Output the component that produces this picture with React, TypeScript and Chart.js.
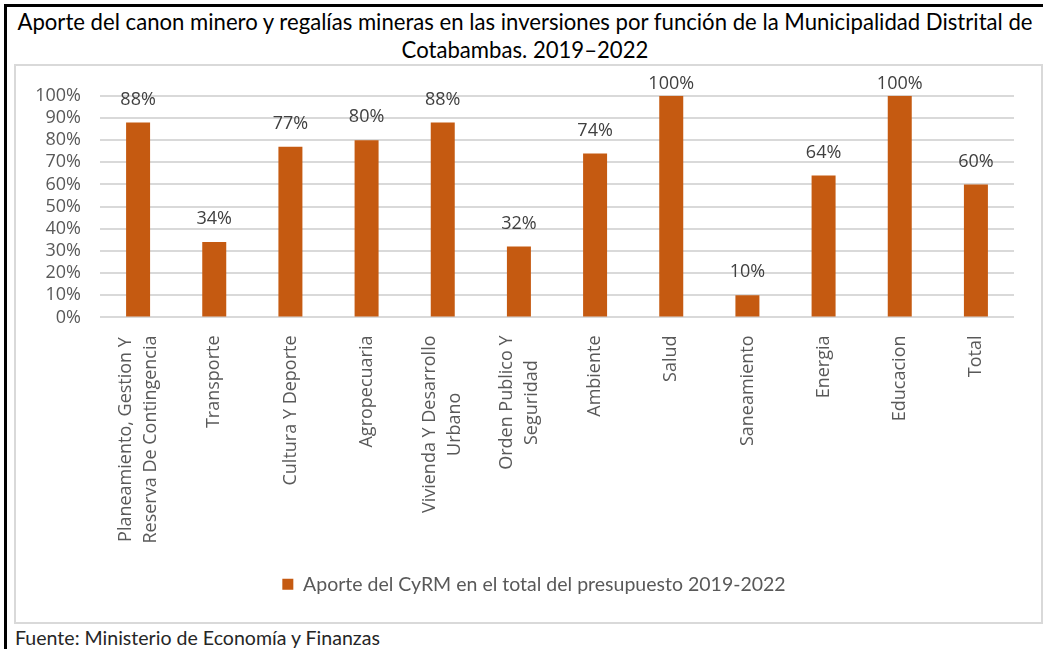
import React, { useEffect, useRef } from "react";
import { Chart, registerables } from "chart.js";

Chart.register(...registerables);

// ---------- data ----------
const titleLines = [
  "Aporte del canon minero y regalías mineras en las inversiones por función de la Municipalidad Distrital de",
  "Cotabambas. 2019–2022",
];
const categories: string[][] = [
  ["Planeamiento, Gestion Y", "Reserva De Contingencia"],
  ["Transporte"],
  ["Cultura Y Deporte"],
  ["Agropecuaria"],
  ["Vivienda Y Desarrollo", "Urbano"],
  ["Orden Publico Y", "Seguridad"],
  ["Ambiente"],
  ["Salud"],
  ["Saneamiento"],
  ["Energia"],
  ["Educacion"],
  ["Total"],
];
const values = [88, 34, 77, 80, 88, 32, 74, 100, 10, 64, 100, 60];
const seriesName = "Aporte del CyRM en el total del presupuesto 2019-2022";
const yMin = 0;
const yMax = 100;
const yStep = 10;
const sourceNote = "Fuente: Ministerio de Economía y Finanzas";

// ---------- styles ----------
const BAR_COLOR = "#C55A11";
const GRID_COLOR = "#D9D9D9";
const TICK_COLOR = "#595959";
const LABEL_COLOR = "#404040";
const SANS = '"Open Sans", sans-serif';
const HUMAN = 'Lato, "Open Sans", sans-serif';

function fitFontSize(text: string, family: string, target: number): number {
  const c = document.createElement("canvas").getContext("2d");
  if (!c) return 18;
  c.font = `100px ${family}`;
  const w = c.measureText(text).width;
  return w > 0 ? (100 * target) / w : 18;
}

const dataLabelPlugin = {
  id: "dataLabels",
  afterDatasetsDraw(chart: any) {
    const ctx = chart.ctx;
    const meta = chart.getDatasetMeta(0);
    const minY = chart.chartArea.top - 12;
    ctx.save();
    ctx.font = `18px ${SANS}`;
    ctx.fillStyle = LABEL_COLOR;
    ctx.textAlign = "center";
    ctx.textBaseline = "middle";
    meta.data.forEach((bar: any, i: number) => {
      ctx.fillText(`${values[i]}%`, bar.x, Math.max(bar.y - 23, minY));
    });
    ctx.restore();
  },
};

const xLabelPlugin = {
  id: "xLabels",
  afterDraw(chart: any) {
    const ctx = chart.ctx;
    const xs = chart.scales.x;
    const top = chart.chartArea.bottom + 18;
    const lineGap = 25;
    ctx.save();
    ctx.font = `18px ${SANS}`;
    ctx.fillStyle = TICK_COLOR;
    ctx.textAlign = "center";
    ctx.textBaseline = "middle";
    categories.forEach((lines, i) => {
      const x = xs.getPixelForValue(i);
      const maxW = Math.max(...lines.map((l) => ctx.measureText(l).width));
      lines.forEach((line, j) => {
        const lx = x + (j - (lines.length - 1) / 2) * lineGap;
        ctx.save();
        ctx.translate(lx, top + maxW / 2);
        ctx.rotate(-Math.PI / 2);
        ctx.fillText(line, 0, 0);
        ctx.restore();
      });
    });
    ctx.restore();
  },
};

const legendShiftPlugin = {
  id: "legendShift",
  afterLayout(chart: any) {
    const lg = chart.legend;
    if (!lg) return;
    const shift = 19;
    lg.left += shift;
    lg.right += shift;
    if (lg.legendHitBoxes) {
      lg.legendHitBoxes.forEach((b: any) => {
        b.left += shift;
      });
    }
  },
};

export default function App() {
  const canvasRef = useRef<HTMLCanvasElement | null>(null);
  const legendSize = fitFontSize(seriesName, HUMAN, 483);
  const titleSize = fitFontSize(titleLines[0], HUMAN, 1017);
  const footSize = fitFontSize(sourceNote, HUMAN, 366);

  useEffect(() => {
    document.body.style.margin = "0";
    if (!canvasRef.current) return;
    const chart = new Chart(canvasRef.current, {
      type: "bar",
      data: {
        labels: categories.map((c) => c.join(" ")),
        datasets: [
          {
            label: seriesName,
            data: values,
            backgroundColor: BAR_COLOR,
            borderWidth: 0,
            categoryPercentage: 1,
            barPercentage: 0.315,
          },
        ],
      },
      options: {
        responsive: false,
        animation: false,
        layout: { padding: { top: 28, right: 27, bottom: 18, left: 0 } },
        plugins: {
          title: { display: false },
          tooltip: { enabled: false },
          legend: {
            display: true,
            position: "bottom",
            labels: {
              boxWidth: 11,
              boxHeight: 11,
              padding: 10,
              color: TICK_COLOR,
              font: { family: HUMAN, size: legendSize },
            },
          },
        },
        scales: {
          x: {
            grid: { display: false },
            border: { display: false },
            ticks: { display: false },
            afterFit: (scale: any) => {
              scale.height = 247;
            },
          },
          y: {
            min: yMin,
            max: yMax,
            grid: { color: GRID_COLOR, lineWidth: 2, drawTicks: false },
            border: { display: false },
            ticks: {
              stepSize: yStep,
              autoSkip: false,
              padding: 19,
              color: TICK_COLOR,
              font: { family: SANS, size: 18 },
              callback: (v: any) => `${v}%`,
            },
            afterFit: (scale: any) => {
              scale.width = 84;
            },
          },
        },
      },
      plugins: [dataLabelPlugin, xLabelPlugin, legendShiftPlugin],
    });
    return () => chart.destroy();
  }, []);

  return (
    <div
      style={{
        position: "absolute",
        left: 0,
        top: 0,
        width: 1043,
        height: 649,
        background: "#fff",
        overflow: "hidden",
      }}
    >
      <div
        style={{
          position: "absolute",
          left: 4,
          top: 4,
          width: 1100,
          height: 700,
          borderLeft: "3px solid #000",
          borderTop: "3px solid #000",
        }}
      />
      <div
        style={{
          position: "absolute",
          left: 7,
          top: 8,
          width: 1036,
          textAlign: "center",
          fontFamily: HUMAN,
          fontSize: titleSize,
          lineHeight: "28px",
          color: "#000",
          whiteSpace: "nowrap",
        }}
      >
        {titleLines[0]}
        <br />
        {titleLines[1]}
      </div>
      <div
        style={{
          position: "absolute",
          left: 14,
          top: 64,
          width: 1029,
          height: 560,
          border: `2px solid ${GRID_COLOR}`,
          boxSizing: "border-box",
        }}
      >
        <canvas
          ref={canvasRef}
          width={1025}
          height={556}
          style={{ display: "block", width: 1025, height: 556 }}
        />
      </div>
      <div
        style={{
          position: "absolute",
          left: 15,
          top: 627,
          fontFamily: HUMAN,
          fontSize: footSize,
          lineHeight: "22px",
          color: "#262626",
          whiteSpace: "nowrap",
        }}
      >
        {sourceNote}
      </div>
    </div>
  );
}
